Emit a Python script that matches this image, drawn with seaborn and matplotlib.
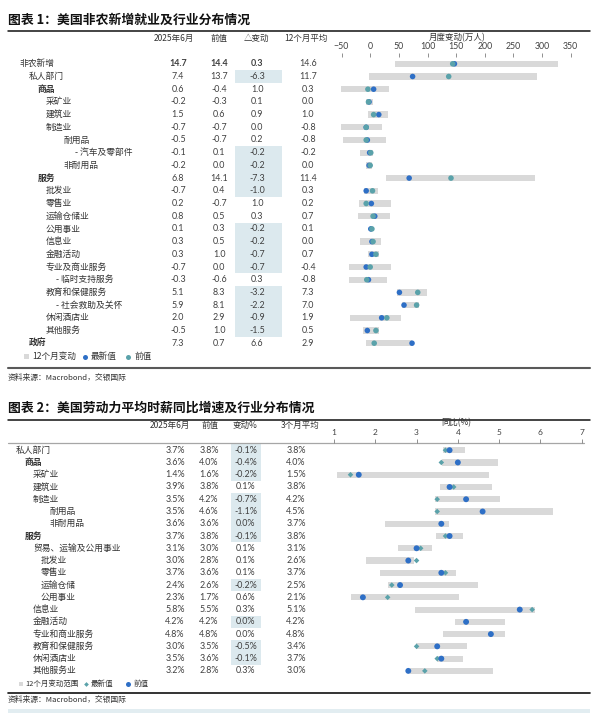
import pandas as pd
import matplotlib
matplotlib.use('Agg')
import matplotlib.pyplot as plt
from matplotlib.patches import Rectangle
import seaborn as sns

# ---------- 图表1：非农新增（表中单位十万人，图中单位万人） ----------
top_labels = ['非农新增', '私人部门', '商品', '采矿业', '建筑业', '制造业', '耐用品',
              '- 汽车及零部件', '非耐用品', '服务', '批发业', '零售业', '运输仓储业',
              '公用事业', '信息业', '金融活动', '专业及商业服务', '- 临时支持服务',
              '教育和保健服务', '- 社会救助及关怀', '休闲酒店业', '其他服务', '政府']
top_level = [0, 1, 2, 3, 3, 3, 4, 5, 4, 2, 3, 3, 3, 3, 3, 3, 3, 3.5, 3, 3.5, 3, 3, 1]
top_bold = ['商品', '服务', '政府']
top_cur = [14.7, 7.4, 0.6, -0.2, 1.5, -0.7, -0.5, -0.1, -0.2, 6.8, -0.7, 0.2, 0.8,
           0.1, 0.3, 0.3, -0.7, -0.3, 5.1, 5.9, 2.0, -0.5, 7.3]
top_prev = [14.4, 13.7, -0.4, -0.3, 0.6, -0.7, -0.7, 0.1, 0.0, 14.1, 0.4, -0.7, 0.5,
            0.3, 0.5, 1.0, 0.0, -0.6, 8.3, 8.1, 2.9, 1.0, 0.7]
top_chg = [0.3, -6.3, 1.0, 0.1, 0.9, 0.0, 0.2, -0.2, -0.2, -7.3, -1.0, 1.0, 0.3,
           -0.2, -0.2, -0.7, -0.7, 0.3, -3.2, -2.2, -0.9, -1.5, 6.6]
top_avg = [14.6, 11.7, 0.3, 0.0, 1.0, -0.8, -0.8, -0.2, 0.0, 11.4, 0.3, 0.2, 0.7,
           0.1, 0.0, 0.7, -0.4, -0.8, 7.3, 7.0, 1.9, 0.5, 2.9]
# 12个月变动区间（万人）
top_lo = [44, -2, -51, -8, -3, -51, -47, -18, -7, 28, -10, -20, -21, -1, -18, -3,
          -37, -37, 47, 56, -35, -13, -7]
top_hi = [327, 291, 33, 5, 31, 20, 27, 5, 4, 287, 13, 36, 35, 4, 18, 15, 36, 29,
          99, 86, 54, 16, 73]
top_ticks = [-50, 0, 50, 100, 150, 200, 250, 300, 350]

# ---------- 图表2：平均时薪同比（%） ----------
bot_labels = ['私人部门', '商品', '采矿业', '建筑业', '制造业', '耐用品', '非耐用品',
              '服务', '贸易、运输及公用事业', '批发业', '零售业', '运输仓储', '公用事业',
              '信息业', '金融活动', '专业和商业服务', '教育和保健服务', '休闲酒店业',
              '其他服务业']
bot_level = [0, 1, 2, 2, 2, 3, 3, 1, 2, 2.5, 2.5, 2.5, 2.5, 2, 2, 2, 2, 2, 2]
bot_bold = ['商品', '服务']
bot_cur = [3.7, 3.6, 1.4, 3.9, 3.5, 3.5, 3.6, 3.7, 3.1, 3.0, 3.7, 2.4, 2.3, 5.8,
           4.2, 4.8, 3.0, 3.5, 3.2]
bot_prev = [3.8, 4.0, 1.6, 3.8, 4.2, 4.6, 3.6, 3.8, 3.0, 2.8, 3.6, 2.6, 1.7, 5.5,
            4.2, 4.8, 3.5, 3.6, 2.8]
bot_chg = [-0.1, -0.4, -0.2, 0.1, -0.7, -1.1, 0.0, -0.1, 0.1, 0.1, 0.1, -0.2, 0.6,
           0.3, 0.0, 0.0, -0.5, -0.1, 0.3]
bot_avg = [3.8, 4.0, 1.5, 3.8, 4.2, 4.5, 3.7, 3.8, 3.1, 2.6, 3.7, 2.5, 2.1, 5.1,
           4.2, 4.8, 3.4, 3.7, 3.0]
bot_hl = [1, 1, 1, 0, 1, 1, 1, 1, 0, 0, 0, 1, 0, 0, 1, 0, 1, 1, 0]
bot_lo = [3.65, 3.61, 1.08, 3.57, 3.45, 3.45, 2.24, 3.47, 2.55, 1.78, 2.11, 2.32,
          1.41, 2.96, 3.93, 3.64, 2.98, 3.49, 2.83]
bot_hi = [4.17, 4.97, 4.75, 4.82, 5.02, 6.30, 3.78, 4.12, 3.37, 2.95, 3.96, 4.48,
          4.03, 5.87, 5.14, 5.14, 4.21, 4.12, 4.85]
bot_ticks = [1, 2, 3, 4, 5, 6, 7]

BLUE = '#2E6FC6'
TEAL = '#5AA2AA'
GREY = '#D9D9D9'
HL = '#DCE9EE'
TXT = '#333333'
NUMC = '#404040'

sns.set_theme(style='white')
plt.rcParams['font.family'] = ['Noto Sans CJK SC', 'DejaVu Sans']
CJK = ['Noto Sans CJK SC', 'DejaVu Sans']
NUM = ['Lato', 'DejaVu Sans']

W, H = 602, 719
fig = plt.figure(figsize=(W / 100, H / 100), dpi=100)
fig.patch.set_facecolor('white')
ov = fig.add_axes([0, 0, 1, 1])
ov.set_xlim(0, W)
ov.set_ylim(H, 0)
ov.axis('off')


def px_axes(x0, y0, x1, y1):
    a = fig.add_axes([x0 / W, 1 - y1 / H, (x1 - x0) / W, (y1 - y0) / H])
    a.patch.set_alpha(0)
    return a


def draw_table(labels, levels, indent, bold, cols, fmt, hl, row0, step, col_x, hl_x, bold_first):
    ys = [row0 + i * step for i in range(len(labels))]
    # highlighted change cells
    for i, flag in enumerate(hl):
        if flag:
            ov.add_patch(Rectangle((hl_x[0], ys[i] - step / 2), hl_x[1] - hl_x[0], step,
                                   facecolor=HL, edgecolor='none', zorder=0))
    for i, lab in enumerate(labels):
        ov.text(indent[levels[i]], ys[i], lab, ha='left', va='center', fontsize=6.3,
                color=TXT, family=CJK, fontweight='bold' if lab in bold else 'normal')
        for j, col in enumerate(cols):
            w = 'bold' if (bold_first and i == 0 and j < 3) else 'normal'
            ov.text(col_x[j], ys[i], fmt.format(col[i]), ha='center', va='center',
                    fontsize=6.4, color=NUMC, family=NUM, fontweight=w)
    return ys


def dot_axes(ax, n, row0, step, y0, y1, lo, hi, df, order, colors, markers, sizes):
    ax.barh(range(n), [h - l for l, h in zip(lo, hi)], left=lo, height=0.5,
            color=GREY, edgecolor='none', zorder=1)
    for s in order:
        sub = df[df['series'] == s]
        sns.scatterplot(data=sub, x='value', y='row', color=colors[s], marker=markers[s],
                        s=sizes[s], edgecolor='none', linewidth=0, ax=ax, zorder=3,
                        legend=False)
    ax.set_ylim((y1 - row0) / step, (y0 - row0) / step)
    ax.set_yticks([])
    ax.set_xlabel('')
    ax.set_ylabel('')
    for sp in ax.spines.values():
        sp.set_visible(False)
    ax.xaxis.tick_top()
    ax.tick_params(axis='x', top=True, bottom=False, length=3, width=0.6, color='#7F7F7F',
                   labelsize=6.3, pad=1.0, labelcolor=NUMC, direction='out')
    for t in ax.get_xticklabels():
        t.set_family(NUM)


# ================= 图表1 =================
ov.text(8, 20, '图表 1：美国非农新增就业及行业分布情况', fontsize=9.25, fontweight='bold',
        va='center', ha='left', color='#111111', family=CJK)
ov.plot([8, 590], [30.5, 30.5], color='#111111', lw=1.1)
for x, t in zip([174, 219, 257, 306], ['2025年6月', '前值', '△变动', '12个月平均']):
    ov.text(x, 38.5, t, ha='center', va='center', fontsize=6.1, color=TXT, family=CJK)
ov.text(457, 38, '月度变动(万人)', ha='center', va='center', fontsize=6.1, color=TXT, family=CJK)

t_row0, t_step = 63.8, 12.7
draw_table(top_labels, top_level, {0: 20, 1: 29, 2: 38, 3: 46, 3.5: 56, 4: 64, 5: 75},
           top_bold, [top_cur, top_prev, top_chg, top_avg], '{:.1f}',
           [c < 0 for c in top_chg], t_row0, t_step, [178, 219, 257, 308], (235, 282), True)

n_top = len(top_labels)
top_df = pd.DataFrame({
    'row': list(range(n_top)) * 2,
    'value': [v * 10 for v in top_cur] + [v * 10 for v in top_prev],
    'series': ['最新值'] * n_top + ['前值'] * n_top,
})
ax1 = px_axes(325, 57, 592, 350)
dot_axes(ax1, n_top, t_row0, t_step, 57, 350, top_lo, top_hi, top_df, ['最新值', '前值'],
         {'最新值': BLUE, '前值': TEAL}, {'最新值': 'o', '前值': 'o'},
         {'最新值': 16, '前值': 16})
ax1.set_xlim((325 - 370.2) / 0.573, (592 - 370.2) / 0.573)
ax1.set_xticks(top_ticks)

# legend 1
ov.add_patch(Rectangle((24, 353.5), 5, 5, facecolor=GREY, edgecolor='none'))
ov.text(32, 356.5, '12个月变动', ha='left', va='center', fontsize=6.2, color=TXT, family=CJK)
ov.plot([85], [356.5], 'o', color=BLUE, ms=3.6, mec='none')
ov.text(91, 356.5, '最新值', ha='left', va='center', fontsize=6.2, color=TXT, family=CJK)
ov.plot([128], [356.5], 'o', color=TEAL, ms=3.6, mec='none')
ov.text(135, 356.5, '前值', ha='left', va='center', fontsize=6.2, color=TXT, family=CJK)
ov.plot([8, 590], [368.3, 368.3], color='#595959', lw=1.5)
ov.text(8, 377.5, '资料来源：Macrobond，交银国际', ha='left', va='center', fontsize=5.6,
        color=TXT, style='italic', family=CJK)

# ================= 图表2 =================
ov.text(8, 408, '图表 2：美国劳动力平均时薪同比增速及行业分布情况', fontsize=9.25,
        fontweight='bold', va='center', ha='left', color='#111111', family=CJK)
ov.plot([8, 590], [420, 420], color='#111111', lw=1.1)
for x, t in zip([170, 210, 245, 300], ['2025年6月', '前值', '变动%', '3个月平均']):
    ov.text(x, 425, t, ha='center', va='center', fontsize=6.1, color=TXT, family=CJK)
ov.text(456, 423, '同比(%)', ha='center', va='center', fontsize=6.0, color=TXT, family=CJK)
ov.plot([8, 584], [442.8, 442.8], color='#A6A6A6', lw=0.9)

b_row0, b_step = 450.2, 12.26
draw_table(bot_labels, bot_level, {0: 16, 1: 25, 2: 33, 2.5: 41, 3: 50},
           bot_bold, [bot_cur, bot_prev, bot_chg, bot_avg], '{:.1f}%',
           bot_hl, b_row0, b_step, [175, 209, 246, 296], (231, 261), False)

n_bot = len(bot_labels)
bot_df = pd.DataFrame({
    'row': list(range(n_bot)) * 2,
    'value': bot_cur + bot_prev,
    'series': ['最新值'] * n_bot + ['前值'] * n_bot,
})
ax2 = px_axes(325, 442.8, 592, 677)
dot_axes(ax2, n_bot, b_row0, b_step, 442.8, 677, bot_lo, bot_hi, bot_df, ['最新值', '前值'],
         {'最新值': TEAL, '前值': BLUE}, {'最新值': 'D', '前值': 'o'},
         {'最新值': 8, '前值': 18})
ax2.set_xlim(1 + (325 - 334) / 41.28, 1 + (592 - 334) / 41.28)
ax2.set_xticks(bot_ticks)
ax2.tick_params(axis='x', labelsize=6.0, pad=1.6)

# legend 2
ov.add_patch(Rectangle((18.5, 681.5), 4.5, 4.5, facecolor=GREY, edgecolor='none'))
ov.text(25, 684, '12个月变动范围', ha='left', va='center', fontsize=5.4, color=TXT, family=CJK)
ov.plot([86], [684], 'D', color=TEAL, ms=2.4, mec='none')
ov.text(91, 684, '最新值', ha='left', va='center', fontsize=5.4, color=TXT, family=CJK)
ov.plot([128], [684], 'o', color=BLUE, ms=3.6, mec='none')
ov.text(134, 684, '前值', ha='left', va='center', fontsize=5.4, color=TXT, family=CJK)
ov.plot([8, 590], [692.8, 692.8], color='#111111', lw=1.2)
ov.text(8, 699.5, '资料来源：Macrobond，交银国际', ha='left', va='center', fontsize=5.6,
        color=TXT, style='italic', family=CJK)
ov.add_patch(Rectangle((8, 709), 582, 4, facecolor='#E2EDF1', edgecolor='none'))

fig.savefig('out.png', dpi=100, facecolor='white')
